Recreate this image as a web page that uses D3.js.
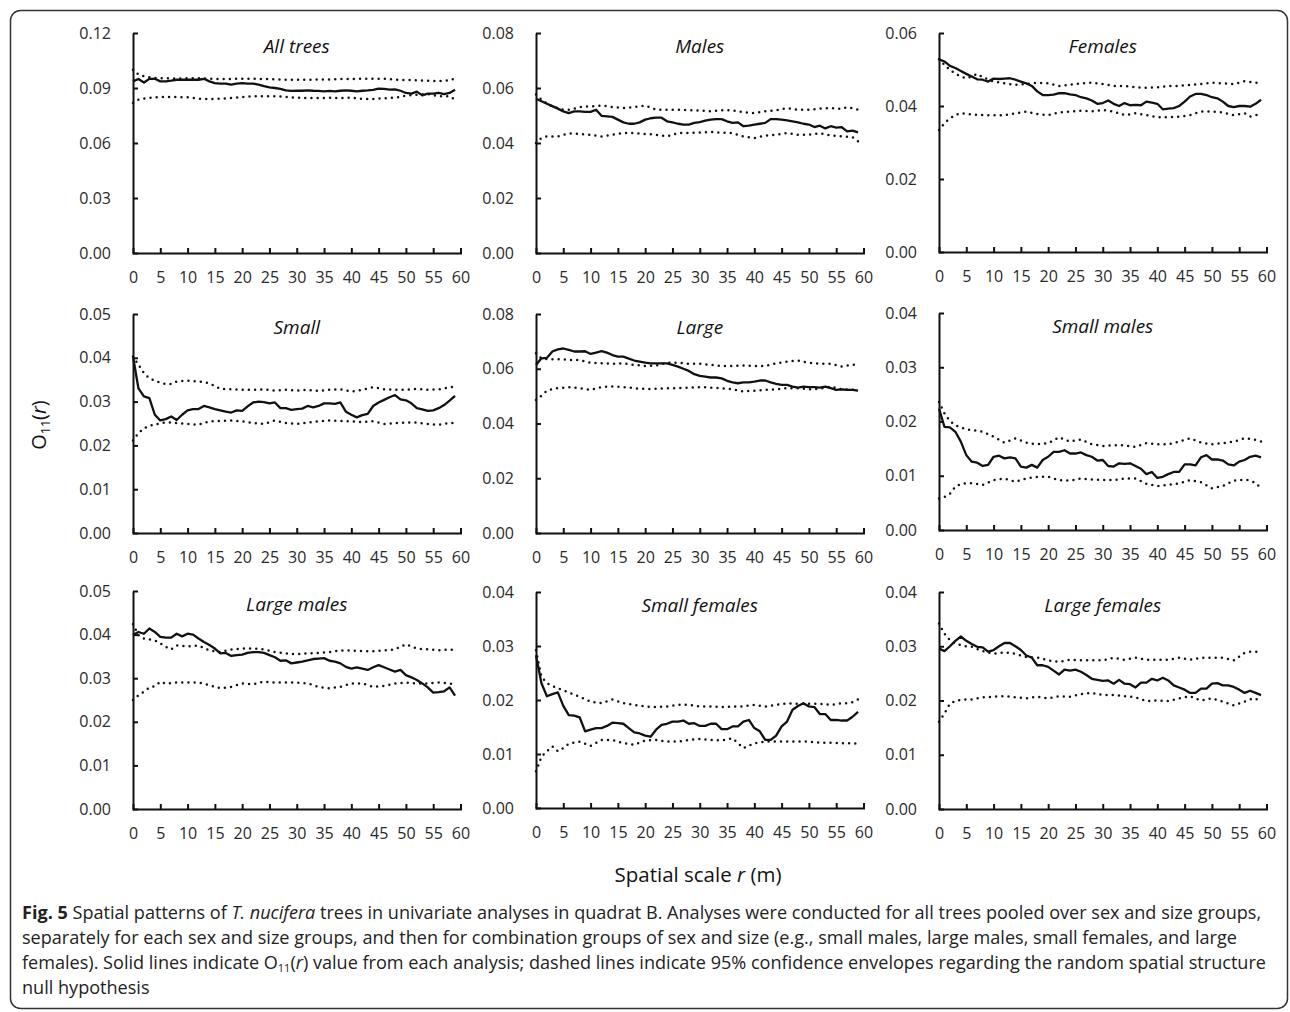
<!DOCTYPE html>
<html lang="en">
<head>
<meta charset="UTF-8">
<title>Fig. 5 O11(r) univariate analyses</title>
<script src="https://d3js.org/d3.v7.min.js"></script>
<style>
  body { margin: 0; background: #fff; }
  svg { display: block; font-family: "Open Sans", "Noto Sans", sans-serif; }
  .axis path, .axis line { stroke: #111; stroke-width: 2; }
  .axis text { font-size: 16px; fill: #2a2a2a; font-family: "Open Sans", sans-serif; }
  .obs { fill: none; stroke: #111; stroke-width: 2.3; stroke-linejoin: round; }
  .env { fill: none; stroke: #111; stroke-width: 2.5; stroke-dasharray: 0 6.2; stroke-linecap: round; }
  .title { font-size: 19px; font-style: italic; fill: #111; text-anchor: middle; }
</style>
</head>
<body>
<svg id="chart" width="1290" height="1012"></svg>
<script>
// distance r (m) for the observed O11(r) curves
const rObs = [0,1,2,3,4,5,6,7,8,9,10,11,12,13,14,15,16,17,18,19,20,21,22,23,24,25,26,27,28,29,
  30,31,32,33,34,35,36,37,38,39,40,41,42,43,44,45,46,47,48,49,50,51,52,53,54,55,56,57,58,59];
// distance r (m) for the 95% envelopes
const rEnv = [0,1,2,3,4,5,6,7,8,10,12,14,16,18,20,22,24,26,28,30,32,34,36,38,40,42,44,46,48,50,52,54,56,57,58,59];

const xTicks = [0,5,10,15,20,25,30,35,40,45,50,55,60];

const titles = ["All trees","Males","Females","Small","Large","Small males","Large males","Small females","Large females"];
const yMax  = [0.12, 0.08, 0.06, 0.05, 0.08, 0.04, 0.05, 0.04, 0.04];
const yStep = [0.03, 0.02, 0.02, 0.01, 0.02, 0.01, 0.01, 0.01, 0.01];

// All trees
const allObs = [.0936,.0949,.0930,.0950,.0950,.0936,.0936,.0940,.0945,.0945,.0945,.0945,.0945,.0950,.0936,.0927,.0924,.0924,.0918,.0924,
  .0927,.0924,.0924,.0918,.0910,.0904,.0900,.0895,.0887,.0884,.0885,.0885,.0887,.0885,.0884,.0882,.0884,.0882,.0885,.0887,
  .0885,.0882,.0885,.0887,.0890,.0896,.0895,.0891,.0893,.0885,.0873,.0869,.0880,.0860,.0869,.0869,.0873,.0867,.0873,.0890];
const allHi = [.1000,.0973,.0964,.0958,.0955,.0954,.0953,.0952,.0951,.0953,.0953,.0951,.0949,.0949,.0951,.0951,.0949,.0947,
  .0945,.0945,.0945,.0947,.0947,.0949,.0949,.0951,.0951,.0951,.0945,.0944,.0942,.0940,.0938,.0940,.0942,.0953];
const allLo = [.0818,.0836,.0842,.0846,.0849,.0850,.0851,.0851,.0851,.0849,.0842,.0840,.0842,.0845,.0851,.0855,.0855,.0855,
  .0851,.0847,.0845,.0845,.0847,.0845,.0847,.0840,.0840,.0844,.0847,.0858,.0864,.0867,.0855,.0855,.0855,.0836];

// Males
const malesObs = [.0561,.0552,.0543,.0534,.0525,.0515,.0509,.0515,.0515,.0513,.0513,.0521,.0499,.0497,.0495,.0485,.0475,.0470,.0470,.0475,
  .0485,.0490,.0492,.0492,.0479,.0475,.0470,.0467,.0467,.0473,.0476,.0481,.0485,.0487,.0487,.0479,.0473,.0475,.0461,.0463,
  .0467,.0470,.0473,.0487,.0487,.0485,.0482,.0479,.0475,.0470,.0467,.0458,.0463,.0453,.0461,.0456,.0458,.0442,.0445,.0439];
const malesHi = [.0576,.0558,.0543,.0533,.0527,.0521,.0521,.0525,.0531,.0533,.0536,.0531,.0527,.0531,.0536,.0521,.0521,.0521,
  .0519,.0518,.0515,.0519,.0519,.0512,.0509,.0515,.0519,.0527,.0521,.0521,.0525,.0527,.0524,.0530,.0526,.0521];
const malesLo = [.0400,.0418,.0424,.0424,.0424,.0430,.0434,.0435,.0433,.0430,.0424,.0430,.0436,.0436,.0433,.0430,.0424,.0436,
  .0436,.0438,.0440,.0438,.0436,.0424,.0418,.0427,.0430,.0436,.0430,.0430,.0436,.0427,.0424,.0423,.0421,.0406];

// Females
const femObs = [.0528,.0522,.0510,.0504,.0496,.0488,.0481,.0473,.0472,.0467,.0475,.0474,.0475,.0476,.0472,.0467,.0462,.0455,.0440,.0430,
  .0430,.0431,.0435,.0435,.0432,.0430,.0424,.0421,.0415,.0406,.0408,.0415,.0406,.0400,.0408,.0402,.0403,.0402,.0412,.0409,
  .0406,.0391,.0393,.0394,.0400,.0412,.0426,.0433,.0433,.0430,.0424,.0421,.0412,.0400,.0397,.0400,.0400,.0398,.0406,.0417];
const femHi = [.0528,.0513,.0499,.0488,.0481,.0476,.0481,.0488,.0479,.0467,.0462,.0458,.0460,.0464,.0462,.0455,.0458,.0462,
  .0464,.0460,.0455,.0455,.0451,.0450,.0451,.0455,.0455,.0458,.0460,.0464,.0462,.0460,.0468,.0466,.0464,.0464];
const femLo = [.0334,.0353,.0366,.0375,.0380,.0379,.0377,.0376,.0375,.0375,.0375,.0380,.0385,.0378,.0375,.0382,.0385,.0387,
  .0385,.0389,.0385,.0375,.0380,.0375,.0369,.0369,.0371,.0375,.0385,.0385,.0382,.0375,.0380,.0371,.0375,.0378];

// Small
const smallObs = [.0403,.0330,.0312,.0308,.0270,.0257,.0260,.0266,.0258,.0270,.0280,.0283,.0283,.0290,.0287,.0283,.0280,.0277,.0275,.0280,
  .0279,.0289,.0298,.0300,.0299,.0296,.0298,.0285,.0285,.0281,.0283,.0284,.0290,.0287,.0290,.0296,.0296,.0295,.0298,.0277,
  .0270,.0264,.0269,.0272,.0290,.0298,.0304,.0310,.0315,.0305,.0303,.0296,.0285,.0282,.0279,.0280,.0285,.0292,.0302,.0313];
const smallHi = [.0403,.0384,.0365,.0353,.0348,.0343,.0340,.0340,.0346,.0348,.0346,.0342,.0329,.0328,.0327,.0327,.0328,.0325,
  .0327,.0325,.0327,.0324,.0327,.0328,.0323,.0327,.0333,.0328,.0327,.0327,.0329,.0327,.0328,.0330,.0333,.0334];
const smallLo = [.0211,.0228,.0239,.0245,.0247,.0251,.0252,.0252,.0251,.0249,.0247,.0255,.0256,.0257,.0255,.0251,.0249,.0257,
  .0251,.0249,.0252,.0255,.0257,.0256,.0255,.0253,.0255,.0249,.0251,.0252,.0252,.0249,.0247,.0249,.0251,.0251];

// Large
const largeObs = [.0614,.0638,.0640,.0663,.0671,.0674,.0669,.0663,.0663,.0664,.0654,.0659,.0664,.0659,.0650,.0644,.0644,.0637,.0630,.0626,
  .0622,.0620,.0620,.0620,.0620,.0614,.0608,.0600,.0592,.0580,.0574,.0571,.0568,.0568,.0565,.0556,.0550,.0547,.0550,.0550,
  .0553,.0557,.0557,.0550,.0545,.0541,.0541,.0535,.0531,.0535,.0533,.0533,.0531,.0535,.0529,.0523,.0525,.0523,.0523,.0520];
const largeHi = [.0657,.0638,.0635,.0635,.0635,.0634,.0632,.0632,.0632,.0622,.0620,.0618,.0620,.0614,.0610,.0612,.0622,.0622,
  .0618,.0618,.0614,.0610,.0610,.0612,.0610,.0610,.0620,.0626,.0630,.0622,.0618,.0618,.0608,.0612,.0614,.0618];
const largeLo = [.0486,.0501,.0520,.0526,.0529,.0531,.0533,.0531,.0529,.0523,.0533,.0535,.0533,.0529,.0526,.0527,.0529,.0529,
  .0531,.0533,.0531,.0529,.0525,.0517,.0520,.0523,.0525,.0529,.0529,.0525,.0527,.0535,.0525,.0524,.0523,.0520];

// Small males
const smObs = [.0224,.0190,.0189,.0181,.0163,.0138,.0126,.0124,.0118,.0120,.0135,.0137,.0132,.0134,.0132,.0117,.0115,.0120,.0115,.0129,
  .0135,.0144,.0144,.0147,.0141,.0141,.0143,.0138,.0135,.0128,.0129,.0118,.0117,.0123,.0122,.0123,.0118,.0113,.0103,.0107,
  .0096,.0098,.0103,.0107,.0107,.0121,.0121,.0119,.0134,.0138,.0130,.0130,.0128,.0121,.0119,.0126,.0129,.0135,.0137,.0134];
const smHi = [.0236,.0215,.0201,.0193,.0189,.0186,.0184,.0183,.0181,.0172,.0161,.0169,.0161,.0158,.0160,.0171,.0163,.0167,
  .0158,.0155,.0156,.0156,.0153,.0160,.0158,.0158,.0163,.0169,.0161,.0158,.0160,.0163,.0169,.0168,.0166,.0163];
const smLo = [.0058,.0061,.0067,.0080,.0085,.0086,.0086,.0085,.0083,.0092,.0095,.0089,.0095,.0098,.0098,.0092,.0091,.0095,
  .0093,.0092,.0092,.0095,.0095,.0085,.0081,.0083,.0086,.0092,.0088,.0077,.0081,.0091,.0093,.0091,.0087,.0077];

// Large males
const lmObs = [.0399,.0406,.0402,.0414,.0406,.0395,.0393,.0393,.0402,.0396,.0402,.0400,.0391,.0383,.0376,.0368,.0357,.0358,.0351,.0353,
  .0354,.0358,.0360,.0360,.0358,.0353,.0348,.0340,.0341,.0334,.0336,.0338,.0341,.0344,.0345,.0346,.0340,.0338,.0334,.0326,
  .0322,.0325,.0322,.0319,.0325,.0330,.0325,.0320,.0315,.0319,.0307,.0302,.0296,.0288,.0279,.0267,.0268,.0270,.0279,.0260];
const lmHi = [.0424,.0399,.0391,.0389,.0387,.0380,.0372,.0366,.0375,.0373,.0375,.0364,.0360,.0366,.0368,.0368,.0366,.0360,
  .0357,.0355,.0357,.0358,.0360,.0364,.0363,.0362,.0362,.0364,.0366,.0378,.0368,.0366,.0364,.0365,.0366,.0364];
const lmLo = [.0250,.0261,.0269,.0279,.0282,.0292,.0287,.0289,.0290,.0290,.0290,.0284,.0277,.0280,.0288,.0286,.0292,.0290,
  .0290,.0290,.0288,.0280,.0277,.0280,.0288,.0288,.0280,.0282,.0288,.0290,.0288,.0288,.0290,.0289,.0288,.0284];

// Small females
const sfObs = [.0283,.0231,.0207,.0211,.0214,.0189,.0172,.0171,.0168,.0142,.0145,.0148,.0148,.0152,.0158,.0157,.0156,.0148,.0140,.0138,
  .0134,.0132,.0145,.0154,.0156,.0160,.0160,.0162,.0156,.0157,.0152,.0152,.0156,.0156,.0146,.0146,.0151,.0151,.0160,.0163,
  .0148,.0142,.0126,.0126,.0134,.0151,.0160,.0182,.0189,.0194,.0188,.0187,.0174,.0174,.0163,.0163,.0162,.0162,.0169,.0178];
const sfHi = [.0292,.0243,.0231,.0226,.0222,.0218,.0214,.0210,.0206,.0197,.0194,.0201,.0194,.0191,.0188,.0187,.0188,.0191,
  .0191,.0188,.0188,.0187,.0188,.0188,.0191,.0188,.0191,.0194,.0193,.0193,.0193,.0191,.0194,.0194,.0196,.0201];
const sfLo = [.0068,.0095,.0105,.0114,.0105,.0111,.0119,.0121,.0123,.0115,.0126,.0126,.0120,.0117,.0125,.0126,.0123,.0123,
  .0126,.0128,.0126,.0125,.0129,.0111,.0120,.0123,.0123,.0123,.0123,.0123,.0121,.0121,.0120,.0120,.0120,.0119];

// Large females
const lfObs = [.0296,.0291,.0300,.0310,.0318,.0310,.0304,.0299,.0298,.0290,.0293,.0300,.0306,.0306,.0300,.0293,.0283,.0279,.0265,.0265,
  .0262,.0255,.0248,.0257,.0255,.0257,.0253,.0247,.0240,.0238,.0236,.0237,.0231,.0238,.0231,.0230,.0224,.0233,.0233,.0240,
  .0237,.0242,.0237,.0228,.0224,.0220,.0214,.0214,.0222,.0222,.0231,.0232,.0228,.0228,.0225,.0220,.0214,.0218,.0214,.0210];
const lfHi = [.0342,.0323,.0311,.0305,.0302,.0300,.0299,.0295,.0291,.0286,.0289,.0286,.0280,.0279,.0274,.0271,.0275,.0274,
  .0274,.0274,.0279,.0275,.0279,.0275,.0275,.0275,.0279,.0275,.0279,.0279,.0279,.0274,.0288,.0290,.0290,.0290];
const lfLo = [.0161,.0176,.0194,.0199,.0201,.0202,.0202,.0204,.0206,.0207,.0208,.0206,.0204,.0207,.0204,.0208,.0207,.0212,
  .0214,.0210,.0210,.0208,.0206,.0199,.0200,.0199,.0204,.0208,.0200,.0204,.0198,.0191,.0198,.0202,.0204,.0196];

const obsSeries = [allObs, malesObs, femObs, smallObs, largeObs, smObs, lmObs, sfObs, lfObs];
const hiSeries  = [allHi, malesHi, femHi, smallHi, largeHi, smHi, lmHi, sfHi, lfHi];
const loSeries  = [allLo, malesLo, femLo, smallLo, largeLo, smLo, lmLo, sfLo, lfLo];

// panel placement: left edge of x axis, plot width, top and bottom of y axis
const colX = [133, 536, 939];
const plotW = 327.5;
const rowTop = [[33,33,33],[314,314,313],[591,592,592]];
const rowBot = [[253,253,252],[533,533,530],[809,808,809]];

const svg = d3.select("#chart");

svg.append("rect")
  .attr("x", 10.5).attr("y", 10.5)
  .attr("width", 1277).attr("height", 998)
  .attr("rx", 10)
  .attr("fill", "none").attr("stroke", "#333").attr("stroke-width", 1.5);

titles.forEach((name, i) => {
  const col = i % 3, row = Math.floor(i / 3);
  const top = rowTop[row][col], bot = rowBot[row][col];
  const g = svg.append("g").attr("transform", `translate(${colX[col]},0)`);

  const x = d3.scaleLinear().domain([0, 60]).range([0, plotW]);
  const y = d3.scaleLinear().domain([0, yMax[i]]).range([bot, top]);
  const yTicks = d3.range(0, yMax[i] + yStep[i] / 2, yStep[i]);

  g.append("g")
    .attr("class", "axis")
    .attr("transform", `translate(0,${bot})`)
    .call(d3.axisBottom(x).tickValues(xTicks).tickSizeInner(-5).tickSizeOuter(0).tickPadding(19))
    .call(a => a.select(".domain").attr("stroke-linecap", "square"));

  g.append("g")
    .attr("class", "axis")
    .call(d3.axisLeft(y).tickValues(yTicks).tickFormat(d3.format(".2f")).tickSizeInner(-5).tickSizeOuter(0).tickPadding(22));

  g.selectAll(".axis text").attr("font-family", null).attr("font-size", null);

  const lineObs = d3.line().x((d, k) => x(rObs[k])).y(d => y(d));
  const lineEnv = d3.line().x((d, k) => x(rEnv[k])).y(d => y(d));

  g.append("path").attr("class", "env").attr("d", lineEnv(hiSeries[i]));
  g.append("path").attr("class", "env").attr("d", lineEnv(loSeries[i]));
  g.append("path").attr("class", "obs").attr("d", lineObs(obsSeries[i]));

  g.append("text")
    .attr("class", "title")
    .attr("x", plotW / 2)
    .attr("y", top + 20)
    .text(name);
});

// y axis label O11(r)
const yl = svg.append("text")
  .attr("transform", "translate(46,425) rotate(-90)")
  .attr("text-anchor", "middle")
  .attr("font-size", 20).attr("fill", "#111");
yl.append("tspan").text("O");
yl.append("tspan").attr("font-size", 12.5).attr("dy", 4).text("11");
yl.append("tspan").attr("dy", -4).text("(");
yl.append("tspan").attr("font-style", "italic").text("r");
yl.append("tspan").text(")");

// x axis label
const xl = svg.append("text")
  .attr("x", 698).attr("y", 882)
  .attr("text-anchor", "middle")
  .attr("font-size", 20.5).attr("fill", "#111");
xl.append("tspan").text("Spatial scale ");
xl.append("tspan").attr("font-style", "italic").text("r");
xl.append("tspan").text(" (m)");

// caption
const cap = svg.append("g").attr("font-size", 16).attr("fill", "#222");
const lines = [
  [["Fig. 5", "b"], [" Spatial patterns of "], ["T. nucifera", "i"], [" trees in univariate analyses in quadrat B. Analyses were conducted for all trees pooled over sex and size groups,"]],
  [["separately for each sex and size groups, and then for combination groups of sex and size (e.g., small males, large males, small females, and large"]],
  [["females). Solid lines indicate O"], ["11", "sub"], ["("], ["r", "i"], [") value from each analysis; dashed lines indicate 95% confidence envelopes regarding the random spatial structure"]],
  [["null hypothesis"]]
];
lines.forEach((parts, li) => {
  const t = cap.append("text").attr("x", 22).attr("y", 919 + li * 25);
  let shifted = false;
  parts.forEach(([s, st]) => {
    const ts = t.append("tspan").text(s);
    if (st === "b") ts.attr("font-weight", "bold");
    if (st === "i") ts.attr("font-style", "italic");
    if (st === "sub") { ts.attr("font-size", 11).attr("dy", 3); shifted = true; }
    else if (shifted) { ts.attr("dy", -3); shifted = false; }
  });
});
// fit the caption to the reference line width
const first = cap.select("text").node();
const w = first.getComputedTextLength();
cap.attr("font-size", 16 * 1240 / w);
</script>
</body>
</html>
